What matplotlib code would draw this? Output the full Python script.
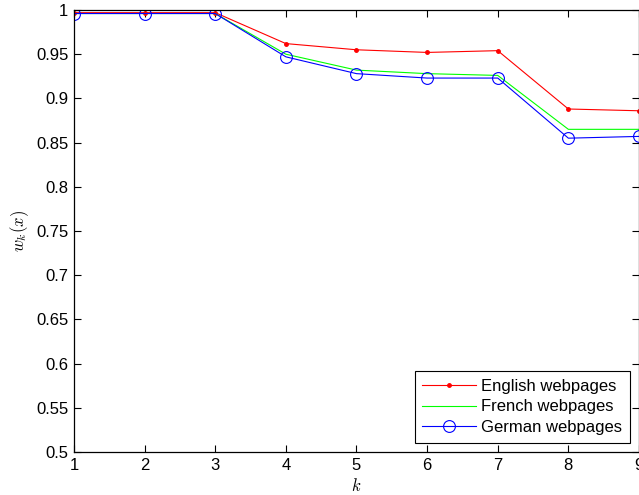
import matplotlib
matplotlib.use("Agg")
import matplotlib.pyplot as plt
from matplotlib.ticker import FuncFormatter

plt.rcParams['font.family'] = ['Liberation Sans', 'DejaVu Sans']
plt.rcParams['mathtext.fontset'] = 'cm'

k = [1, 2, 3, 4, 5, 6, 7, 8, 9]
english = [0.997, 0.997, 0.997, 0.962, 0.955, 0.952, 0.954, 0.888, 0.886]
french = [0.996, 0.996, 0.996, 0.950, 0.932, 0.928, 0.926, 0.865, 0.865]
german = [0.996, 0.996, 0.996, 0.947, 0.928, 0.923, 0.923, 0.855, 0.857]

fig = plt.figure(figsize=(6.39, 4.95), dpi=100)
ax = fig.add_axes([0.1158, 0.0869, 0.8842, 0.8929])

ax.plot(k, english, color='red', marker='.', markersize=5, linewidth=0.8, label='English webpages')
ax.plot(k, french, color='#00ff00', linewidth=0.8, label='French webpages')
ax.plot(k, german, color='blue', marker='o', markersize=8.5, markerfacecolor='none',
        markeredgewidth=0.8, linewidth=0.8, label='German webpages')

ax.set_xlim(1, 9)
ax.set_ylim(0.5, 1)
ax.set_xticks(k)
ax.set_yticks([0.5 + 0.05 * i for i in range(11)])
ax.yaxis.set_major_formatter(FuncFormatter(lambda v, p: '%g' % round(v, 2)))
ax.tick_params(direction='in', top=True, right=True, labelsize=12, length=5, width=0.8, pad=4)
for s in ax.spines.values():
    s.set_linewidth(0.9)

ax.set_xlabel('$k$', fontsize=12, labelpad=3)
ax.set_ylabel('$w_k(x)$', fontsize=12, labelpad=4)

leg = ax.legend(loc='lower right', fontsize=12, fancybox=False, framealpha=1,
                edgecolor='black', borderpad=0.45, labelspacing=0.35, handlelength=3.2,
                handletextpad=0.35, borderaxespad=0.55)
leg.get_frame().set_linewidth(0.8)

fig.savefig('out.png', dpi=100)
